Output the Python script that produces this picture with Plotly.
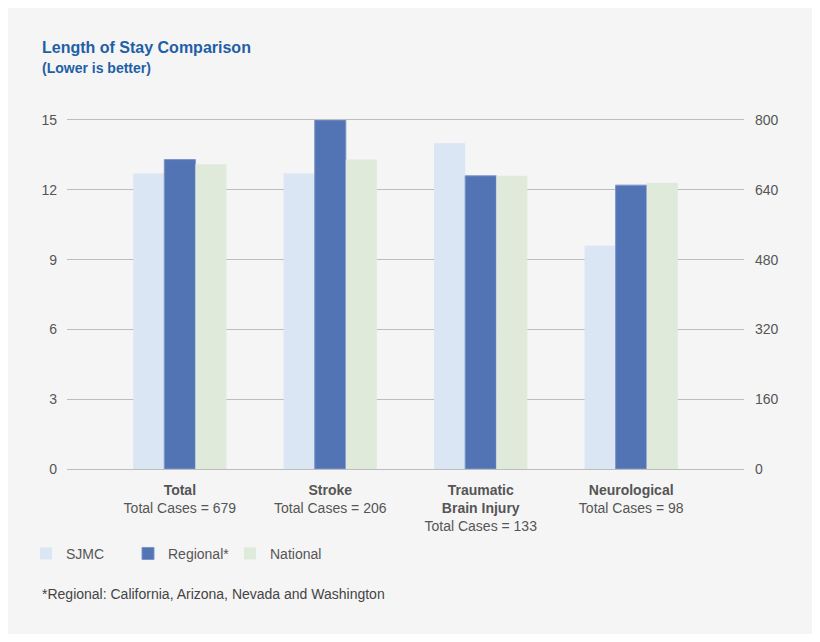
import plotly.graph_objects as go

categories = ["Total", "Stroke", "Traumatic<br>Brain Injury", "Neurological"]
total_cases = [679, 206, 133, 98]
sjmc = [12.7, 12.7, 14.0, 9.6]
regional = [13.3, 15.0, 12.6, 12.2]
national = [13.1, 13.3, 12.6, 12.3]
left_ticks = [0, 3, 6, 9, 12, 15]
right_ticks = [0, 160, 320, 480, 640, 800]

x = list(range(len(categories)))
ticktext = [f"<b>{c}</b><br>Total Cases = {n}" for c, n in zip(categories, total_cases)]

FONT = "Liberation Sans, Arial, sans-serif"
BG = "#f5f5f5"
GRID = "#bdbdbd"

# page body has an 8px margin; work in figure pixels = reference pixels - 8
OFF = 8
W, H = 804, 626
L, T = 67 - OFF, 119.5 - OFF
R_EDGE, B_EDGE = 744 - OFF, 469 - OFF
PW, PH = R_EDGE - L, B_EDGE - T


def px(xr):
    return (xr - OFF - L) / PW


def py(yr):
    return (B_EDGE - (yr - OFF)) / PH


fig = go.Figure()
fig.add_trace(go.Bar(x=x, y=sjmc, name="SJMC", marker=dict(color="#dae6f3", line=dict(width=0))))
fig.add_trace(go.Bar(x=x, y=regional, name="Regional*", marker=dict(color="#5274b5", line=dict(color="#7b95c8", width=1))))
fig.add_trace(go.Bar(x=x, y=national, name="National", marker=dict(color="#dfeadb", line=dict(width=0))))
fig.add_trace(go.Scatter(x=[None], y=[None], yaxis="y2", showlegend=False, hoverinfo="skip"))

fig.update_layout(
    width=W, height=H,
    paper_bgcolor=BG, plot_bgcolor=BG,
    margin=dict(l=L, r=W - R_EDGE, t=T, b=H - B_EDGE, pad=0),
    barmode="group", bargap=0.38, bargroupgap=0,
    font=dict(family=FONT, size=14, color="#555555"),
    xaxis=dict(
        range=[-0.75, 3.75], tickvals=x, ticktext=ticktext,
        showgrid=False, zeroline=False, showline=True, mirror=True,
        linecolor=GRID, linewidth=1.3, ticks="", ticklen=0,
        tickfont=dict(size=14, color="#555555"), ticklabelstandoff=8,
    ),
    yaxis=dict(
        range=[0, 15], tickvals=left_ticks, showgrid=True, gridcolor=GRID, gridwidth=1.3,
        zeroline=False, showline=False, ticks="", ticklen=0,
        tickfont=dict(size=14, color="#555555"), ticklabelstandoff=9,
    ),
    yaxis2=dict(
        range=[0, 800], tickvals=right_ticks, overlaying="y", side="right",
        showgrid=False, zeroline=False, showline=False, ticks="", ticklen=0,
        tickfont=dict(size=14, color="#555555"), ticklabelstandoff=10,
    ),
    legend=dict(
        orientation="h", x=px(26), xanchor="left", y=py(554), yanchor="middle",
        font=dict(size=14, color="#555555"), bgcolor="rgba(0,0,0,0)",
        traceorder="normal", entrywidth=57, entrywidthmode="pixels",
    ),
    showlegend=True,
)

fig.add_annotation(
    text="<b>Length of Stay Comparison</b>", xref="paper", yref="paper",
    x=px(40), y=py(47), xanchor="left", yanchor="middle",
    showarrow=False, font=dict(size=16, color="#1f5fa6", family=FONT),
)
fig.add_annotation(
    text="<b>(Lower is better)</b>", xref="paper", yref="paper",
    x=px(40), y=py(67), xanchor="left", yanchor="middle",
    showarrow=False, font=dict(size=14, color="#1f5fa6", family=FONT),
)
fig.add_annotation(
    text="*Regional: California, Arizona, Nevada and Washington", xref="paper", yref="paper",
    x=px(40), y=py(594), xanchor="left", yanchor="middle",
    showarrow=False, font=dict(size=14, color="#444444", family=FONT),
)

fig.write_html("out.html")
